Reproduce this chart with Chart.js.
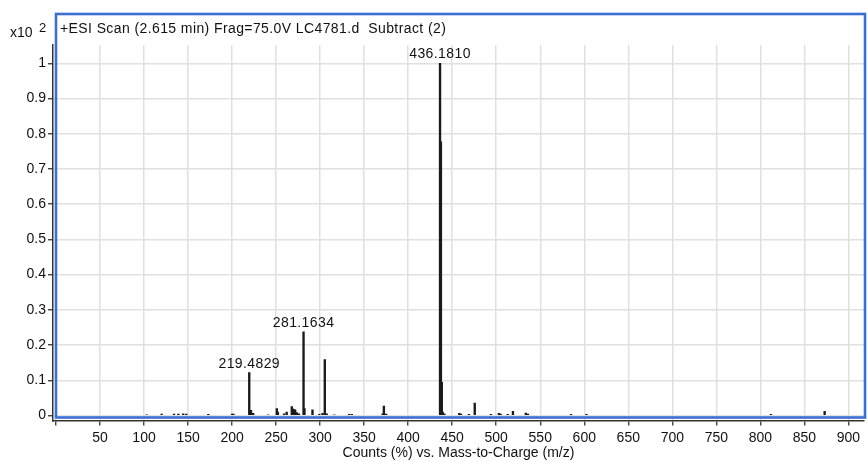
<!DOCTYPE html>
<html>
<head>
<meta charset="utf-8">
<title>ESI Scan</title>
<script src="https://cdn.jsdelivr.net/npm/chart.js@4/dist/chart.umd.min.js"></script>
<style>
	html, body { margin: 0; padding: 0; background: #fff; }
	#charts { width: 867px; height: 462px; }
</style>
</head>
<body>
<div id="charts"><canvas id="chart"></canvas></div>
<script>
/* 스펙트럼 데이터 (m/z, counts x10^2) */
const mz = [
	103, 120, 134, 139, 144.5, 148, 173, 200, 201.5,
	219.4829, 220.5, 221.5, 224, 241, 250.8, 252, 259, 262, 267.8, 269.7, 271.6, 273.5, 276,
	281.1634, 282.2, 291.3, 299, 302.7, 305.3, 307.5, 316, 333, 336,
	371, 372.4, 375,
	436.1810, 437.18, 438.18, 439.2, 441, 458, 460, 469, 475.6,
	494, 503, 505, 513, 519, 533.6, 536, 585, 602.5, 812, 873
];
const counts = [
	0.002, 0.004, 0.004, 0.004, 0.005, 0.004, 0.003, 0.004, 0.004,
	0.122, 0.010, 0.015, 0.006, 0.002, 0.020, 0.010, 0.005, 0.010, 0.025, 0.018, 0.016, 0.008, 0.005,
	0.2375, 0.020, 0.016, 0.003, 0.006, 0.159, 0.005, 0.002, 0.003, 0.003,
	0.005, 0.027, 0.004,
	1.0, 0.777, 0.094, 0.010, 0.005, 0.006, 0.004, 0.003, 0.035,
	0.003, 0.006, 0.004, 0.003, 0.012, 0.007, 0.004, 0.003, 0.003, 0.003, 0.012
];

/* 피크 라벨 */
const labelMz = [219.4829, 281.1634, 436.1810];
const labelText = ['219.4829', '281.1634', '436.1810'];

/* 축 눈금 */
const xTicks = [0, 50, 100, 150, 200, 250, 300, 350, 400, 450, 500, 550, 600, 650, 700, 750, 800, 850, 900];
const yTicks = [0, 0.1, 0.2, 0.3, 0.4, 0.5, 0.6, 0.7, 0.8, 0.9, 1];

const titleText = '+ESI Scan (2.615 min) Frag=75.0V LC4781.d  Subtract (2)';
const xTitle = 'Counts (%) vs. Mass-to-Charge (m/z)';

const FONT = '"Liberation Sans", Arial, Helvetica, sans-serif';

window.onload = function() {
	Chart.defaults.font.family = FONT;
	Chart.defaults.font.size = 14;
	Chart.defaults.color = '#111';

	// 프레임, 제목, 배율 표시
	const framePlugin = {
		id: 'frame',
		afterDatasetsDraw(chart) {
			const ctx = chart.ctx;
			const xs = chart.scales.x;
			const ys = chart.scales.y;

			// 피크 라벨
			ctx.save();
			ctx.font = '14px ' + FONT;
			ctx.letterSpacing = '0.4px';
			ctx.fillStyle = '#111';
			ctx.textAlign = 'center';
			ctx.textBaseline = 'alphabetic';
			labelMz.forEach(function(v, i) {
				const idx = mz.indexOf(v);
				const px = xs.getPixelForValue(v);
				const py = ys.getPixelForValue(counts[idx]);
				ctx.fillText(labelText[i], px, py - 5);
			});
			ctx.restore();
		},
		afterDraw(chart) {
			const ctx = chart.ctx;
			const a = chart.chartArea;
			ctx.save();
			ctx.strokeStyle = '#3a6fd4';
			ctx.lineWidth = 2.6;
			ctx.strokeRect(a.left + 3, 14, a.right - a.left - 2, a.bottom - 3 - 14);

			ctx.fillStyle = '#111';
			ctx.textBaseline = 'middle';
			ctx.textAlign = 'left';
			ctx.font = '14px ' + FONT;
			ctx.letterSpacing = '0.4px';
			ctx.fillText(titleText, 60, 29);
			ctx.letterSpacing = '0px';
			ctx.fillText('x10', 10, 33);
			ctx.font = '13px ' + FONT;
			ctx.fillText('2', 39, 28);
			ctx.restore();
		}
	};

	const data = {
		datasets: [{
			label: 'counts',
			data: mz.map(function(v, i) { return { x: v, y: counts[i] }; }),
			backgroundColor: '#1a1a1a',
			borderWidth: 0,
			barThickness: 1.7
		}]
	};

	const config = {
		type: 'bar',
		data: data,
		plugins: [framePlugin],
		options: {
			animation: false,
			maintainAspectRatio: false,
			layout: { padding: { top: 45, right: 3, left: 0, bottom: 0 } },
			plugins: {
				legend: { display: false },
				tooltip: { enabled: false }
			},
			scales: {
				x: {
					type: 'linear',
					offset: false,
					min: -3.4,
					max: 917.7,
					afterBuildTicks: function(scale) {
						scale.ticks = xTicks.map(function(v) { return { value: v }; });
					},
					afterFit: function(scale) { scale.height = 41.5; },
					ticks: {
						autoSkip: false,
						maxRotation: 0,
						padding: 4,
						callback: function(v) { return v === 0 ? '' : String(v); }
					},
					grid: {
						offset: false,
						color: '#e0e0e0',
						lineWidth: 1.5,
						tickColor: '#333',
						tickLength: 5,
						tickWidth: 1.3
					},
					border: { color: '#333', width: 1.5 },
					title: {
						display: true,
						text: xTitle,
						font: { size: 14 },
						padding: { top: 0, bottom: 0 }
					}
				},
				y: {
					min: -0.0142,
					max: 1.052,
					afterBuildTicks: function(scale) {
						scale.ticks = yTicks.map(function(v) { return { value: v }; });
					},
					afterFit: function(scale) { scale.width = 53; },
					ticks: {
						padding: 2,
						callback: function(v) { return String(Math.round(v * 10) / 10); }
					},
					grid: {
						color: '#e0e0e0',
						lineWidth: 1.5,
						tickColor: '#333',
						tickLength: 5,
						tickWidth: 1.3
					},
					border: { color: '#333', width: 1.5 }
				}
			}
		}
	};

	const chart = new Chart(
		document.getElementById('chart'),
		config
	);
};
</script>
</body>
</html>
